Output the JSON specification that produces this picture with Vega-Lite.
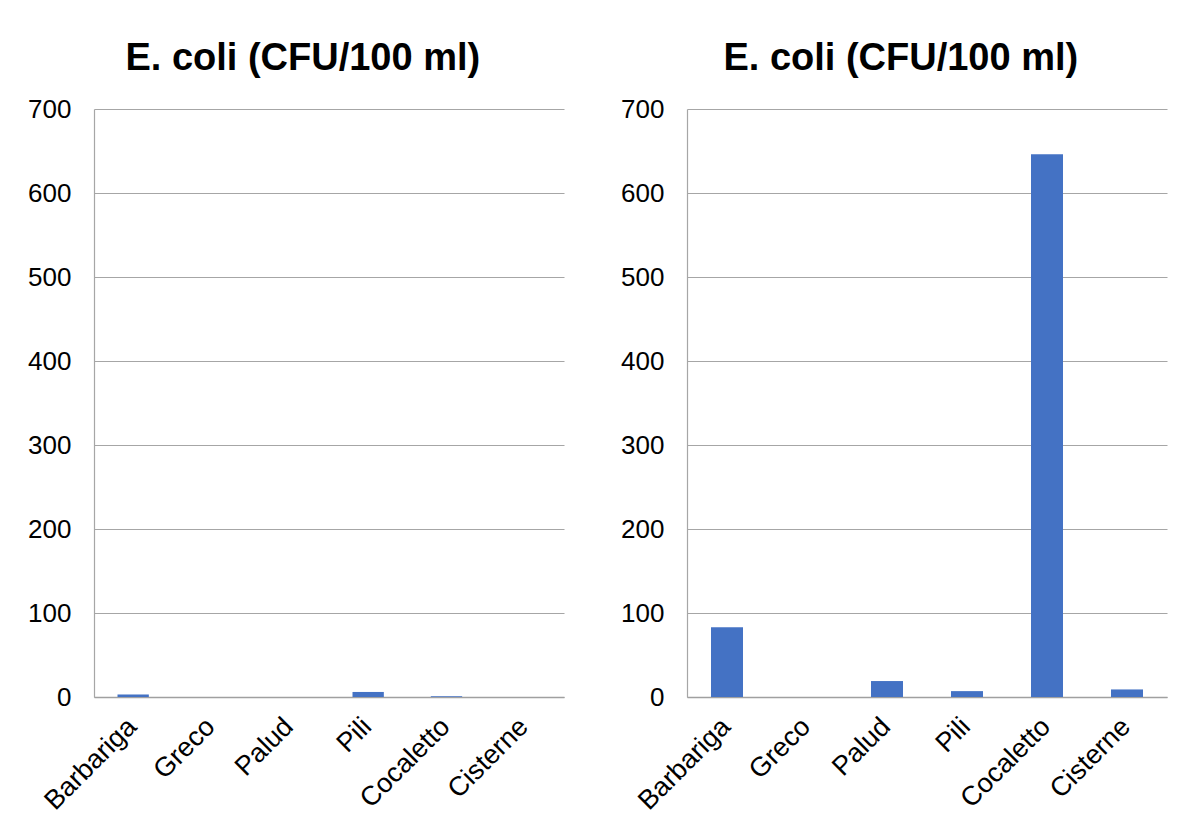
{
  "$schema": "https://vega.github.io/schema/vega-lite/v6.json",
  "background": "white",
  "padding": {"left": 27, "top": 40, "right": 22, "bottom": 5},
  "datasets": {
    "before": [
      {"site": "Barbariga", "ecoli": 3},
      {"site": "Greco", "ecoli": 0},
      {"site": "Palud", "ecoli": 0},
      {"site": "Pili", "ecoli": 6},
      {"site": "Cocaletto", "ecoli": 1},
      {"site": "Cisterne", "ecoli": 0}
    ],
    "after": [
      {"site": "Barbariga", "ecoli": 83},
      {"site": "Greco", "ecoli": 0},
      {"site": "Palud", "ecoli": 19},
      {"site": "Pili", "ecoli": 7},
      {"site": "Cocaletto", "ecoli": 646},
      {"site": "Cisterne", "ecoli": 9}
    ]
  },
  "spacing": 56,
  "hconcat": [
    {
      "data": {"name": "before"},
      "width": 470,
      "height": 588,
      "title": {"text": "E. coli (CFU/100 ml)"},
      "mark": {"type": "bar", "color": "#4472C4"},
      "encoding": {
        "x": {"field": "site", "type": "nominal", "sort": null, "title": null},
        "y": {"field": "ecoli", "type": "quantitative", "title": null, "scale": {"domain": [0, 700], "nice": false},
              "axis": {"values": [0, 100, 200, 300, 400, 500, 600, 700]}}
      }
    },
    {
      "data": {"name": "after"},
      "width": 480,
      "height": 588,
      "title": {"text": "E. coli (CFU/100 ml)"},
      "mark": {"type": "bar", "color": "#4472C4"},
      "encoding": {
        "x": {"field": "site", "type": "nominal", "sort": null, "title": null},
        "y": {"field": "ecoli", "type": "quantitative", "title": null, "scale": {"domain": [0, 700], "nice": false},
              "axis": {"values": [0, 100, 200, 300, 400, 500, 600, 700]}}
      }
    }
  ],
  "config": {
    "font": "Liberation Sans",
    "view": {"stroke": null},
    "scale": {"bandPaddingInner": 0.6, "bandPaddingOuter": 0.3},
    "title": {"fontSize": 38, "fontWeight": "bold", "color": "black", "frame": "bounds", "anchor": "middle", "offset": 18, "dx": 7},
    "axisY": {"labelFontSize": 26, "labelColor": "black", "ticks": false, "domain": true, "domainColor": "#a6a6a6", "domainWidth": 1.2, "labelPadding": 23, "gridColor": "#a6a6a6", "gridWidth": 1.2, "grid": true},
    "axisX": {"labelAngle": -45, "labelFontSize": 27, "labelColor": "black", "ticks": false, "domainColor": "#a0a0a0", "domainWidth": 1.5, "labelPadding": 16, "labelOffset": -10, "grid": false}
  }
}
